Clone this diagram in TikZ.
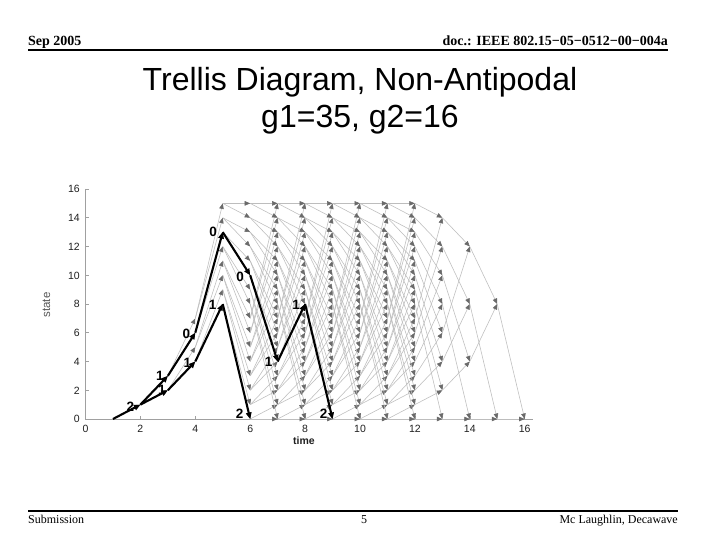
\documentclass[tikz,border=0pt]{standalone}
\usepackage{fontspec}
\setmainfont{Liberation Serif}
\newfontfamily\arialf{Liberation Sans}
\usetikzlibrary{arrows.meta}
\definecolor{edgegray}{HTML}{BDBDBD}
\definecolor{tipgray}{HTML}{6A6A6A}
\definecolor{axisgray}{HTML}{A0A0A0}
\definecolor{ticklab}{HTML}{202020}
\definecolor{ylabgray}{HTML}{555555}
\newcommand\myedges[2]{%
  \foreach \s in {#2}{%
    \pgfmathtruncatemacro\tn{#1+1}%
    \pgfmathtruncatemacro\ea{mod(2*\s,16)}%
    \pgfmathtruncatemacro\eb{mod(2*\s+1,16)}%
    \draw[edge] (n#1-\s) -- (n\tn-\ea);
    \draw[edge] (n#1-\s) -- (n\tn-\eb);
  }}
\newcommand\myzeros[2]{%
  \foreach \s in {#2}{%
    \pgfmathtruncatemacro\tn{#1+1}%
    \pgfmathtruncatemacro\ea{mod(2*\s,16)}%
    \draw[edge] (n#1-\s) -- (n\tn-\ea);
  }}
\begin{document}
\begin{tikzpicture}[x=1pt,y=-1pt,
  edge/.style={draw=edgegray, line width=0.55pt, -{Triangle[length=5.5pt,width=4.5pt,color=tipgray]}},
  best/.style={draw=black, line width=2.1pt, -{Triangle[length=6.5pt,width=5.5pt]}},
  plab/.style={font=\arialf\bfseries\fontsize{13.5}{13.5}\selectfont, inner sep=0pt, text height=9.7pt, text depth=0pt},
  ticklabel/.style={font=\arialf\fontsize{10.5}{11}\selectfont, text=ticklab, inner sep=0pt, text height=7.5pt, text depth=0pt},
  axisline/.style={draw=axisgray, line width=0.6pt},
  rule/.style={line width=2.3pt, draw=black},
  hdr/.style={font=\bfseries\fontsize{14}{14}\selectfont, inner sep=0pt},
  ftr/.style={font=\fontsize{12}{12}\selectfont, inner sep=0pt},
  ttl/.style={font=\arialf\fontsize{32}{38}\selectfont, inner sep=0pt, align=center}]
\useasboundingbox (0,0) rectangle (720,540);
\fill[white] (0,0) rectangle (720,540);
% header
\node[hdr, anchor=base west] (hdate) at (28,46) {Sep 2005};
\node[hdr, anchor=base east] (hdoc) at (668,46) {doc.: IEEE 802.15−05−0512−00−004a};
\coordinate (hl) at (28,50);
\coordinate (hr) at (668,50);
\draw[rule] (hl) -- (hr);
% footer
\coordinate (fl) at (28,511);
\coordinate (fr) at (678,511);
\draw[rule] (fl) -- (fr);
\node[ftr, anchor=base west] (fsub) at (28,523) {Submission};
\node[ftr, anchor=base] (fpage) at (364,523) {5};
\node[ftr, anchor=base east] (fauth) at (678,523) {Mc Laughlin, Decawave};
% title
\node[ttl, anchor=base] (t1) at (360,91) {Trellis Diagram, Non-Antipodal};
\node[ttl, anchor=base] (t2) at (360,128) {g1=35, g2=16};
% axis labels
\node[font=\arialf\fontsize{11.5}{11}\selectfont, text=ylabgray, rotate=90, inner sep=0pt] (ylab) at (46.5,305) {state};
\node[font=\arialf\bfseries\fontsize{10.5}{11}\selectfont, text=ticklab, inner sep=0pt] (xlab) at (304,441) {time};
\begin{scope}[shift={(85.5,419)}, x={(27.45pt,0pt)}, y={(0pt,14.375pt)}]
  \foreach \t in {1,...,16}{\foreach \s in {0,...,15}{\coordinate (n\t-\s) at (\t,\s);}}
  \coordinate (o) at (0,0);
  \coordinate (ytop) at (0,16);
  \coordinate (xend) at (16.3,0);
  \draw[axisline] (ytop) -- (o) -- (xend);
  \foreach \v in {0,2,...,16}{
    \coordinate (yt\v) at (0,\v);
    \coordinate (xt\v) at (\v,0);
    \draw[axisline] (yt\v) -- ++(3pt,0);
    \draw[axisline] (xt\v) -- ++(0,3pt);
    \node[ticklabel, anchor=east] (yl\v) at (-0.2,\v) {\v};
    \node[ticklabel] (xl\v) at (\v,-0.65) {\v};
  }
  % gray trellis
  \draw[edge] (n1-0) -- (n2-1);
  \myedges{2}{1}
  \myedges{3}{2,3}
  \myedges{4}{4,5,6,7}
  \myedges{5}{8,...,15}
  \foreach \tt in {6,...,11}{\myedges{\tt}{0,...,15}}
  \myzeros{12}{0,...,15}
  \myzeros{13}{0,2,...,14}
  \myzeros{14}{0,4,8,12}
  \myzeros{15}{0,8}
  % best paths
  \draw[best] (n1-0) -- (n2-1);
  \draw[best] (n2-1) -- (n3-3);
  \draw[best] (n3-3) -- (n4-6);
  \draw[best] (n4-6) -- (n5-13);
  \draw[best] (n5-13) -- (n6-10);
  \draw[best] (n6-10) -- (n7-4);
  \draw[best] (n7-4) -- (n8-8);
  \draw[best] (n8-8) -- (n9-0);
  \draw[best] (n2-1) -- (n3-2);
  \draw[best] (n3-2) -- (n4-4);
  \draw[best] (n4-4) -- (n5-8);
  \draw[best] (n5-8) -- (n6-0);
  % branch labels
  \node[plab] (m1) at ([xshift=-10pt,yshift=-2pt]n2-1) {2};
  \node[plab] (m2) at ([xshift=-8pt,yshift=0pt]n3-3) {1};
  \node[plab] (m3) at ([xshift=-6pt,yshift=1pt]n3-2) {1};
  \node[plab] (m4) at ([xshift=-9pt,yshift=-1pt]n4-6) {0};
  \node[plab] (m5) at ([xshift=-8pt,yshift=-1pt]n4-4) {1};
  \node[plab] (m6) at ([xshift=-9.5pt,yshift=0pt]n5-13) {0};
  \node[plab] (m7) at ([xshift=-10pt,yshift=-1pt]n5-8) {1};
  \node[plab] (m8) at ([xshift=-10pt,yshift=-1.5pt]n6-10) {0};
  \node[plab] (m9) at ([xshift=-10.5pt,yshift=5pt]n6-0) {2};
  \node[plab] (m10) at ([xshift=-9pt,yshift=0pt]n7-4) {1};
  \node[plab] (m11) at ([xshift=-9pt,yshift=-1pt]n8-8) {1};
  \node[plab] (m12) at ([xshift=-9pt,yshift=5.5pt]n9-0) {2};
\end{scope}
\end{tikzpicture}
\end{document}
